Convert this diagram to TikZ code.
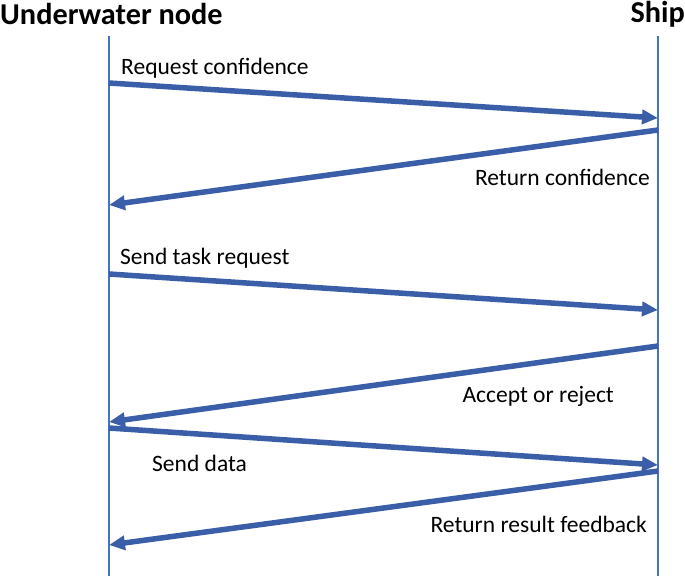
\documentclass[tikz,border=0pt]{standalone}
\usepackage{fontspec}
\setmainfont{Carlito}
\usetikzlibrary{arrows.meta,positioning}
\definecolor{lifeblue}{RGB}{68,114,196}
\definecolor{msgblue}{RGB}{58,94,168}

\begin{document}
\begin{tikzpicture}[x=1pt, y=-1pt,
  actor/.style={font=\bfseries\fontsize{30.3}{32}\selectfont, inner sep=0pt},
  life/.style={draw=lifeblue, line width=1.4pt},
  msg/.style={draw=msgblue, line width=5.5pt, -{Triangle[length=16pt,width=14pt]}},
  lbl/.style={font=\fontsize{23.5}{25}\selectfont, inner sep=0pt},
]
\useasboundingbox (0,0) rectangle (685,576);
\node[actor, anchor=west] (uw) at (0,14) {Underwater node};
\node[actor, anchor=east] (ship) at (685,14) {Ship};
% lifelines
\coordinate (uwtop) at (109,36);
\coordinate (uwbot) at (109,576);
\coordinate (shtop) at (658,36);
\coordinate (shbot) at (658,576);
\draw[life] (uwtop) -- (uwbot);
\draw[life] (shtop) -- (shbot);
% message ends
\coordinate (a1) at (109,83);  \coordinate (b1) at (658,118);
\coordinate (b2) at (658,130); \coordinate (a2) at (109,205);
\coordinate (a3) at (109,274); \coordinate (b3) at (658,310);
\coordinate (b4) at (658,346); \coordinate (a4) at (109,422);
\coordinate (a5) at (109,428); \coordinate (b5) at (658,465);
\coordinate (b6) at (658,471); \coordinate (a6) at (109,545);
\draw[msg] (a1) -- (b1);
\draw[msg] (b2) -- (a2);
\draw[msg] (a3) -- (b3);
\draw[msg] (b4) -- (a4);
\draw[msg] (a5) -- (b5);
\draw[msg] (b6) -- (a6);
% labels
\node[lbl, anchor=west] (l1) at (121,68) {Request confidence};
\node[lbl, anchor=east] (l2) at (650,177) {Return confidence};
\node[lbl, anchor=west] (l3) at (120,258) {Send task request};
\node[lbl, anchor=east] (l4) at (614,396) {Accept or reject};
\node[lbl, anchor=west] (l5) at (152,463) {Send data};
\node[lbl, anchor=east] (l6) at (647,524) {Return result feedback};
\end{tikzpicture}
\end{document}
